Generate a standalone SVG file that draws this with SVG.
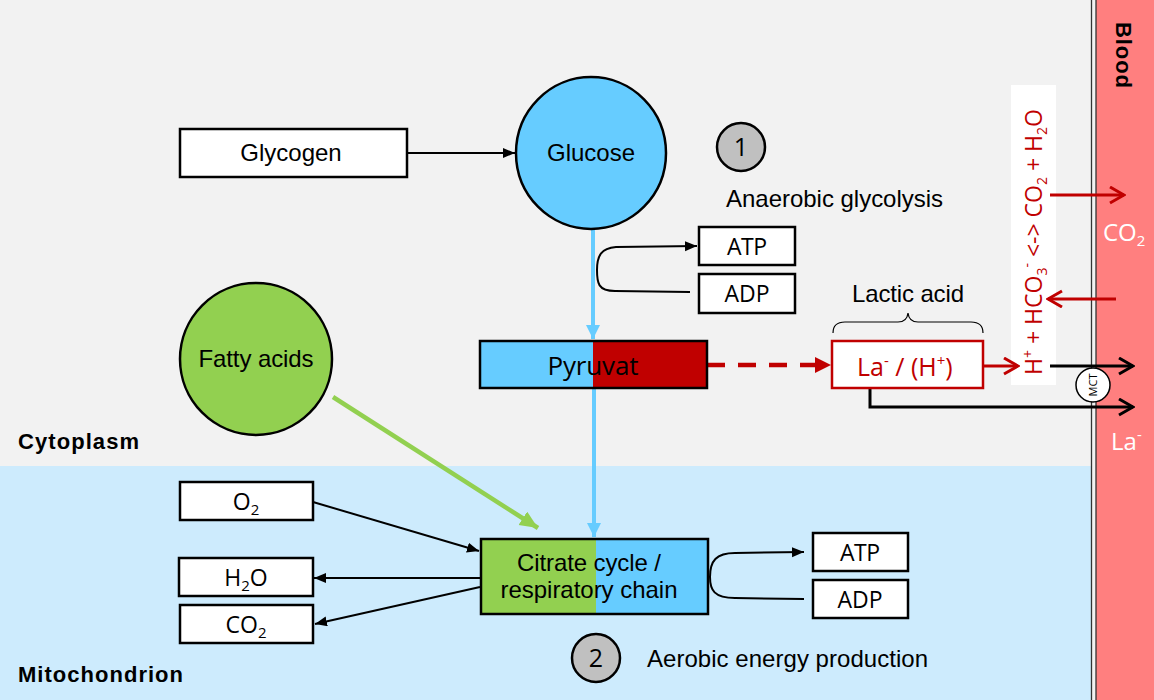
<svg xmlns="http://www.w3.org/2000/svg" width="1154" height="700" viewBox="0 0 1154 700">
<defs>
<style>
.box{fill:#fff;stroke:#000;stroke-width:2.5}
.ar{font-family:"Liberation Sans",Arial,sans-serif;font-size:24px;fill:#000}
.sg{font-family:"Open Sans","Noto Sans",sans-serif;fill:#000}
.bold{font-family:"Liberation Sans",Arial,sans-serif;font-weight:bold;font-size:22px;fill:#000}
.thin{fill:none;stroke:#000;stroke-width:2}
.red{fill:#c00000}
</style>
<marker id="mk" markerUnits="userSpaceOnUse" markerWidth="14" markerHeight="12" refX="12" refY="5" orient="auto"><path d="M0,0 L12,5 L0,10 z" fill="#000"/></marker>
<marker id="mb" markerUnits="userSpaceOnUse" markerWidth="16" markerHeight="16" refX="14" refY="7" orient="auto"><path d="M0,0 L14,7 L0,14 z" fill="#66ccff"/></marker>
<marker id="mg" markerUnits="userSpaceOnUse" markerWidth="20" markerHeight="18" refX="18" refY="8" orient="auto"><path d="M0,0 L18,8 L0,16 z" fill="#92d050"/></marker>
<marker id="mr" markerUnits="userSpaceOnUse" markerWidth="18" markerHeight="18" refX="16" refY="8" orient="auto"><path d="M0,0 L16,8 L0,16 z" fill="#c00000"/></marker>
<marker id="mro" markerUnits="userSpaceOnUse" markerWidth="18" markerHeight="20" refX="16" refY="9" orient="auto"><path d="M2,1 L16,9 L2,17" fill="none" stroke="#c00000" stroke-width="3"/></marker>
<marker id="mko" markerUnits="userSpaceOnUse" markerWidth="18" markerHeight="20" refX="16" refY="9" orient="auto"><path d="M2,1 L16,9 L2,17" fill="none" stroke="#000" stroke-width="3"/></marker>
</defs>

<g id="background">
<rect x="0" y="0" width="1154" height="700" fill="#f2f2f2"/>
<rect x="0" y="466" width="1092" height="234" fill="#cdebfd"/>
<rect x="1096" y="0" width="58" height="700" fill="#ff7f7f"/>
<line x1="1091.5" y1="0" x2="1091.5" y2="700" stroke="#333" stroke-width="1.3"/>
<line x1="1096" y1="0" x2="1096" y2="700" stroke="#333" stroke-width="1.3"/>
<text class="bold" x="18" y="449" textLength="121">Cytoplasm</text>
<text class="bold" x="18" y="682" textLength="165">Mitochondrion</text>
<text class="bold" transform="translate(1116,22) rotate(90)" textLength="66">Blood</text>
<rect x="1011" y="85" width="45" height="300" fill="#fff"/>
</g>

<g id="connectors">
<line x1="407" y1="153" x2="515" y2="153" class="thin" marker-end="url(#mk)"/>
<line x1="593" y1="229" x2="593" y2="339" stroke="#66ccff" stroke-width="4" marker-end="url(#mb)"/>
<line x1="594" y1="388" x2="594" y2="537" stroke="#66ccff" stroke-width="4" marker-end="url(#mb)"/>
<path d="M 690 292 L 615 291 C 598 291 597 283 597 270 C 597 256 601 248 616 247 L 697 246" class="thin" marker-end="url(#mk)"/>
<line x1="333" y1="397" x2="538" y2="528" stroke="#92d050" stroke-width="4.5" marker-end="url(#mg)"/>
<line x1="707" y1="365" x2="831" y2="365" stroke="#c00000" stroke-width="4.5" stroke-dasharray="18 13" marker-end="url(#mr)"/>
<line x1="983" y1="366" x2="1018" y2="366" stroke="#c00000" stroke-width="3" marker-end="url(#mro)"/>
<line x1="1050" y1="195" x2="1124" y2="195" stroke="#c00000" stroke-width="3" marker-end="url(#mro)"/>
<line x1="1116" y1="299" x2="1048" y2="299" stroke="#c00000" stroke-width="3" marker-end="url(#mro)"/>
<line x1="1050" y1="366" x2="1133" y2="366" stroke="#000" stroke-width="3" marker-end="url(#mko)"/>
<path d="M 870 385 L 870 407 L 1133 407" fill="none" stroke="#000" stroke-width="3" marker-end="url(#mko)"/>
<path d="M 833 333 Q 833 322 845 322 L 898 322 Q 907 322 908 313 Q 909 322 918 322 L 971 322 Q 983 322 983 333" fill="none" stroke="#000" stroke-width="1.2"/>
<line x1="313" y1="502" x2="479" y2="551" class="thin" marker-end="url(#mk)"/>
<line x1="480" y1="578" x2="314" y2="578" class="thin" marker-end="url(#mk)"/>
<line x1="480" y1="587" x2="315" y2="624" class="thin" marker-end="url(#mk)"/>
<path d="M 804 599 L 735 598 C 714 598 710 590 710 577 C 710 561 716 553 735 553 L 804 552" class="thin" marker-end="url(#mk)"/>
</g>

<g id="glycogen">
<rect class="box" x="180" y="129" width="227" height="48"/>
<text class="ar" x="291" y="161" text-anchor="middle" font-size="22">Glycogen</text>
</g>

<g id="glucose">
<ellipse cx="591" cy="153" rx="75" ry="76" fill="#66ccff" stroke="#000" stroke-width="2.5"/>
<text class="ar" x="591" y="161" text-anchor="middle" font-size="22">Glucose</text>
</g>

<g id="step1">
<circle cx="741" cy="147" r="24" fill="#c0c0c0" stroke="#000" stroke-width="2.5"/>
<text class="sg" x="741" y="156" text-anchor="middle" font-size="25">1</text>
<text class="ar" x="726" y="207" font-size="21" textLength="217">Anaerobic glycolysis</text>
</g>

<g id="atp1">
<rect class="box" x="699" y="227" width="96" height="38"/>
<text class="sg" x="747" y="255" text-anchor="middle" font-size="23" textLength="40">ATP</text>
</g>
<g id="adp1">
<rect class="box" x="699" y="274" width="96" height="39"/>
<text class="sg" x="747" y="302" text-anchor="middle" font-size="23" textLength="45">ADP</text>
</g>

<g id="fattyacids">
<ellipse cx="256" cy="359" rx="76" ry="76" fill="#92d050" stroke="#000" stroke-width="2.5"/>
<text class="ar" x="256" y="367" text-anchor="middle" font-size="23" textLength="115">Fatty acids</text>
</g>

<g id="pyruvat">
<rect x="480" y="341" width="113" height="47" fill="#66ccff"/>
<rect x="593" y="341" width="114" height="47" fill="#c00000"/>
<rect x="480" y="341" width="227" height="47" fill="none" stroke="#000" stroke-width="2.5"/>
<text class="sg" x="593" y="375" text-anchor="middle" font-size="26" textLength="91">Pyruvat</text>
</g>

<g id="lactic">
<text class="ar" x="908" y="302" text-anchor="middle" font-size="21" textLength="112">Lactic acid</text>
<rect x="832" y="341" width="151" height="47" fill="#fff" stroke="#c00000" stroke-width="2.5"/>
<text class="sg red" x="857" y="376" font-size="25">La<tspan font-size="15" dy="-10">-</tspan><tspan dy="10"> / (H</tspan><tspan font-size="15" dy="-10">+</tspan><tspan dy="10">)</tspan></text>
</g>

<g id="equation">
<text class="sg red" transform="translate(1042,375) rotate(-90)" font-size="23">H<tspan font-size="14" dy="-9">+</tspan><tspan dy="9"> + HCO</tspan><tspan font-size="14" dy="5">3</tspan><tspan font-size="14" dy="-15">-</tspan><tspan dy="10">  &lt;-&gt; CO</tspan><tspan font-size="14" dy="5">2</tspan><tspan dy="-5"> + H</tspan><tspan font-size="14" dy="5">2</tspan><tspan dy="-5">O</tspan></text>
</g>

<g id="blood-co2">
<text class="sg" x="1103" y="241" font-size="24" style="fill:#fff">CO<tspan font-size="15" dy="5">2</tspan></text>
</g>
<g id="blood-la">
<text class="sg" x="1111" y="450" font-size="24" style="fill:#fff">La<tspan font-size="15" dy="-10">-</tspan></text>
</g>

<g id="mct">
<circle cx="1093" cy="385" r="17" fill="#fff" stroke="#000" stroke-width="1.5"/>
<text class="sg" transform="translate(1097,385) rotate(-90)" text-anchor="middle" font-size="11">MCT</text>
</g>

<g id="o2">
<rect class="box" x="180" y="482" width="133" height="38"/>
<text class="sg" x="246" y="510" text-anchor="middle" font-size="23">O<tspan font-size="15" dy="5">2</tspan></text>
</g>
<g id="h2o">
<rect class="box" x="179" y="558" width="134" height="38"/>
<text class="sg" x="246" y="586" text-anchor="middle" font-size="23">H<tspan font-size="15" dy="5">2</tspan><tspan dy="-5">O</tspan></text>
</g>
<g id="co2">
<rect class="box" x="180" y="605" width="133" height="38"/>
<text class="sg" x="246" y="633" text-anchor="middle" font-size="23">CO<tspan font-size="15" dy="5">2</tspan></text>
</g>

<g id="citrate">
<rect x="481" y="539" width="115" height="75" fill="#92d050"/>
<rect x="596" y="539" width="112" height="75" fill="#66ccff"/>
<rect x="481" y="539" width="227" height="75" fill="none" stroke="#000" stroke-width="2.5"/>
<text class="ar" x="589" y="571" text-anchor="middle" font-size="22" textLength="144">Citrate cycle /</text>
<text class="ar" x="589" y="598" text-anchor="middle" font-size="22" textLength="177">respiratory chain</text>
</g>

<g id="atp2">
<rect class="box" x="813" y="533" width="95" height="38"/>
<text class="sg" x="860" y="561" text-anchor="middle" font-size="23" textLength="40">ATP</text>
</g>
<g id="adp2">
<rect class="box" x="813" y="580" width="95" height="38"/>
<text class="sg" x="860" y="608" text-anchor="middle" font-size="23" textLength="45">ADP</text>
</g>

<g id="step2">
<circle cx="596" cy="658" r="24" fill="#c0c0c0" stroke="#000" stroke-width="2.5"/>
<text class="sg" x="596" y="667" text-anchor="middle" font-size="25">2</text>
<text class="ar" x="647" y="667" font-size="21" textLength="281">Aerobic energy production</text>
</g>
</svg>
